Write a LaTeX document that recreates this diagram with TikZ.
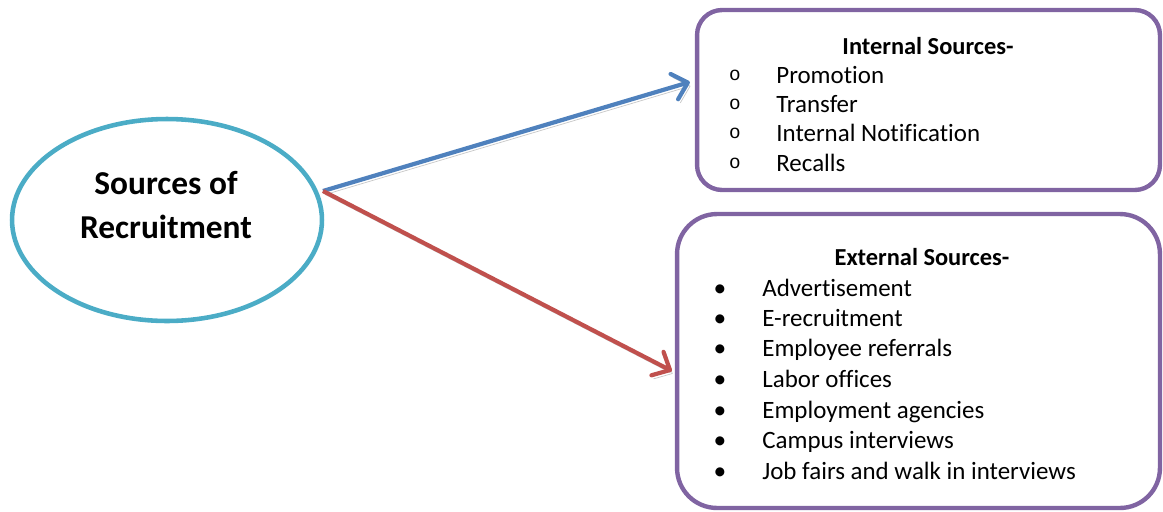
\documentclass[tikz,border=0pt]{standalone}
\usepackage{fontspec}
\setmainfont[Ligatures=NoCommon]{Carlito}
\newfontfamily\courier{Liberation Mono}
\usetikzlibrary{arrows.meta,shapes.geometric}
\definecolor{tealline}{HTML}{4BACC6}
\definecolor{purpleline}{HTML}{8064A2}
\definecolor{blueline}{HTML}{4F81BD}
\definecolor{redline}{HTML}{C0504D}
\tikzset {cadre/.style={draw=purpleline, line width=2.5pt, rounded corners=#1, inner sep=0pt}}
\tikzset {titre/.style={font=\fontsize{19}{24.5}\selectfont\bfseries, align=center},
          entete/.style={font=\fontsize{13.9}{16}\selectfont\bfseries, text height=12.5pt, text depth=3pt},
          item/.style={anchor=west, inner sep=0pt, font=\fontsize{14.2}{16}\selectfont,
                       text height=12.5pt, text depth=3pt},
          rond/.style={inner sep=0pt, font=\courier\fontsize{11}{13}\selectfont,
                       text height=9.5pt, text depth=3pt},
          puce/.style={inner sep=0pt, font=\fontsize{14.5}{16}\selectfont,
                       text height=12.5pt, text depth=3pt}}
\tikzset {fleche/.style={line width=2.4pt, -{Straight Barb[length=8pt,width=15pt,round]},
          preaction={draw=black!22, transform canvas={shift={(1.3pt,-2pt)}}}}}

\begin{document}
\begin{tikzpicture}[x=0.02cm,y=-0.02cm]
  \useasboundingbox (0,0) rectangle (1163,511);
  \node [ellipse, draw=tealline, line width=2.6pt, minimum width=6.2cm, minimum height=4.04cm]
    (src) at (167,220) {};
  \node [titre] (srctxt) at (166,205) {Sources of\\Recruitment};
  \node [cadre=0.5cm, minimum width=9.26cm, minimum height=3.6cm] (intsrc) at (928.5,100) {};
  \node [cadre=0.8cm, minimum width=9.66cm, minimum height=5.88cm] (extsrc) at (918.5,361) {};
  \coordinate (fork) at (323,191);
  \draw [fleche, blueline] (fork) -- ([xshift=-0.1cm,yshift=0.36cm]intsrc.west);
  \draw [fleche, redline] (fork) -- ([xshift=-0.06cm,yshift=-0.2cm]extsrc.west);
  \draw (928,46) node[entete] (inthead) {Internal Sources-};
  \draw (735,75) node[rond] (o1) {o} (776,75) node[item] (i1) {Promotion};
  \draw (735,104) node[rond] (o2) {o} (776,104) node[item] (i2) {Transfer};
  \draw (735,133) node[rond] (o3) {o} (776,133) node[item] (i3) {Internal Notification};
  \draw (735,163) node[rond] (o4) {o} (776,163) node[item] (i4) {Recalls};
  \draw (922,257) node[entete] (exthead) {External Sources-};
  \draw (720,288) node[puce] (b1) {•} (762,288) node[item] (e1) {Advertisement};
  \draw (720,318) node[puce] (b2) {•} (762,318) node[item] (e2) {E-recruitment};
  \draw (720,348) node[puce] (b3) {•} (762,348) node[item] (e3) {Employee referrals};
  \draw (720,379) node[puce] (b4) {•} (762,379) node[item] (e4) {Labor offices};
  \draw (720,410) node[puce] (b5) {•} (762,410) node[item] (e5) {Employment agencies};
  \draw (720,440) node[puce] (b6) {•} (762,440) node[item] (e6) {Campus interviews};
  \draw (720,471) node[puce] (b7) {•} (762,471) node[item] (e7) {Job fairs and walk in interviews};
\end{tikzpicture}
\end{document}
